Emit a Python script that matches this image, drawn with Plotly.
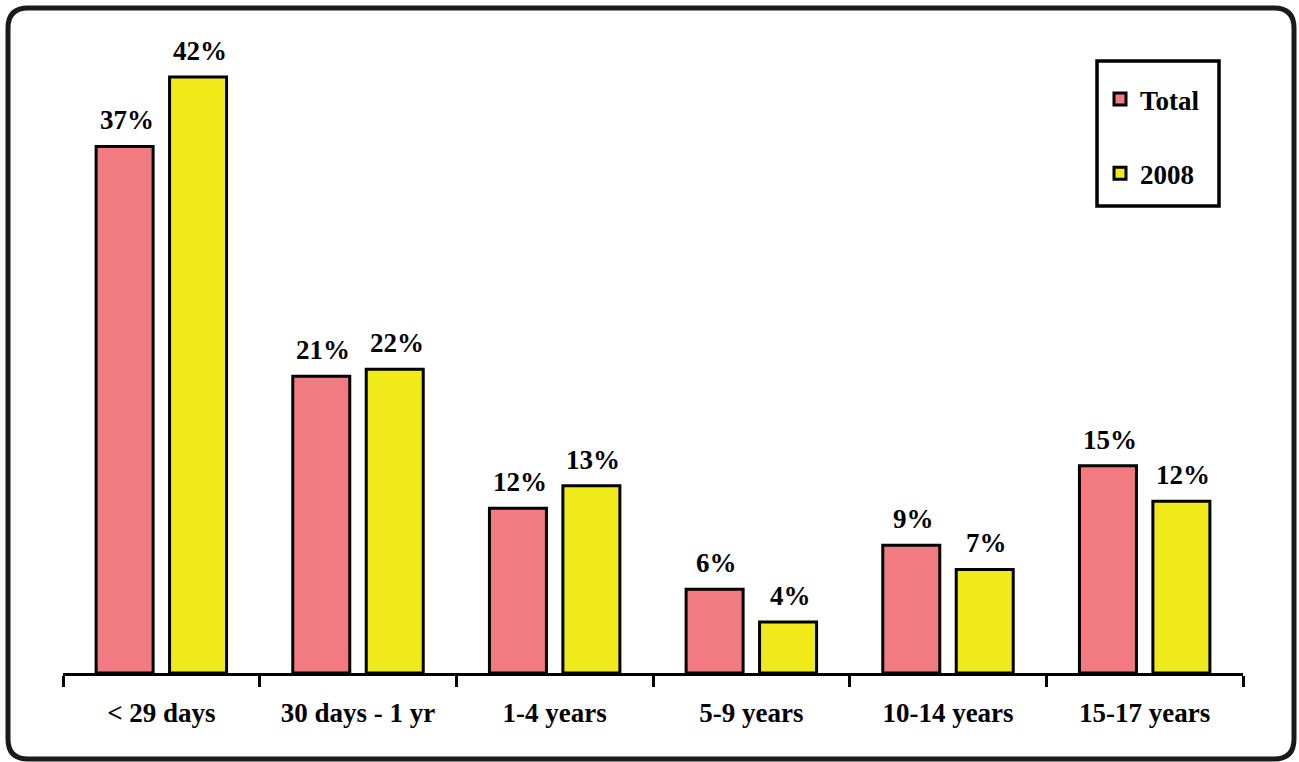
import plotly.graph_objects as go

# age groups and the share of deaths in each
categories = ["< 29 days", "30 days - 1 yr", "1-4 years", "5-9 years", "10-14 years", "15-17 years"]
total_vals = [37.1, 20.9, 11.6, 5.9, 9.0, 14.6]
vals_2008 = [42.0, 21.4, 13.2, 3.6, 7.3, 12.1]
total_labels = ["37%", "21%", "12%", "6%", "9%", "15%"]
labels_2008 = ["42%", "22%", "13%", "4%", "7%", "12%"]

PINK = "#F27A81"
YELLOW = "#F1EA1A"
FONT = "Liberation Serif, Times New Roman, serif"

W, H = 1299, 762
L, R, T, B = 63, 56, 40, 89
PW, PH = W - L - R, H - T - B
BAR_SHIFT = 36.75  # px from category centre to each bar centre


def px_x(x):
    return (x - L) / PW


def px_y(y):
    return (H - B - y) / PH


fig = go.Figure()
fig.add_trace(go.Bar(
    x=categories, y=total_vals, name="Total",
    marker=dict(color=PINK, line=dict(color="black", width=3)),
    legendgroup="a",
))
fig.add_trace(go.Bar(
    x=categories, y=vals_2008, name="2008",
    marker=dict(color=YELLOW, line=dict(color="black", width=3)),
    legendgroup="b",
))

# value labels sit a bit higher above the bars than plotly's outside text
annotations = []
for vals, labels, shift in [(total_vals, total_labels, -BAR_SHIFT), (vals_2008, labels_2008, BAR_SHIFT)]:
    for cat, v, lab in zip(categories, vals, labels):
        annotations.append(dict(
            x=cat, y=v, text=lab, showarrow=False,
            xanchor="center", yanchor="bottom", xshift=shift + 2, yshift=9,
            font=dict(family=FONT, size=27, color="black", weight="bold"),
        ))

# rounded outer frame
x0, x1, y0, y1, r = 8, 1294, 8, 759, 20
path = (
    f"M {px_x(x0 + r)},{px_y(y0)} L {px_x(x1 - r)},{px_y(y0)} "
    f"Q {px_x(x1)},{px_y(y0)} {px_x(x1)},{px_y(y0 + r)} "
    f"L {px_x(x1)},{px_y(y1 - r)} Q {px_x(x1)},{px_y(y1)} {px_x(x1 - r)},{px_y(y1)} "
    f"L {px_x(x0 + r)},{px_y(y1)} Q {px_x(x0)},{px_y(y1)} {px_x(x0)},{px_y(y1 - r)} "
    f"L {px_x(x0)},{px_y(y0 + r)} Q {px_x(x0)},{px_y(y0)} {px_x(x0 + r)},{px_y(y0)} Z"
)
shapes = [
    dict(type="path", xref="paper", yref="paper", path=path,
         line=dict(color="#1a1a1a", width=5), layer="above"),
    # legend box
    dict(type="rect", xref="paper", yref="paper",
         x0=px_x(1097), x1=px_x(1219), y0=px_y(61), y1=px_y(206),
         line=dict(color="black", width=3.5)),
]

fig.update_layout(
    width=W, height=H,
    margin=dict(l=L, r=R, t=T, b=B),
    paper_bgcolor="white", plot_bgcolor="white",
    barmode="group", bargap=0.253, bargroupgap=0.224,
    font=dict(family=FONT, size=26, color="black", weight="bold"),
    showlegend=True,
    legend=dict(
        x=px_x(1100), y=px_y(75), xanchor="left", yanchor="top",
        bgcolor="rgba(0,0,0,0)", borderwidth=0,
        traceorder="grouped", tracegroupgap=36,
        font=dict(family=FONT, size=27, color="black", weight="bold"),
        itemwidth=30,
    ),
    shapes=shapes,
    annotations=annotations,
    xaxis=dict(
        showline=True, linecolor="black", linewidth=3,
        ticks="outside", tickson="boundaries", ticklen=11, tickwidth=3, tickcolor="black",
        ticklabelstandoff=14,
        tickfont=dict(family=FONT, size=27, color="black", weight="bold"),
        showgrid=False,
    ),
    yaxis=dict(range=[0, 44.6], visible=False, showgrid=False, zeroline=False),
)

# the page's default body margin would push the figure 8px off; drop it
fig.write_html("out.html", config={"displayModeBar": False},
               post_script="document.body.style.margin='0';")
